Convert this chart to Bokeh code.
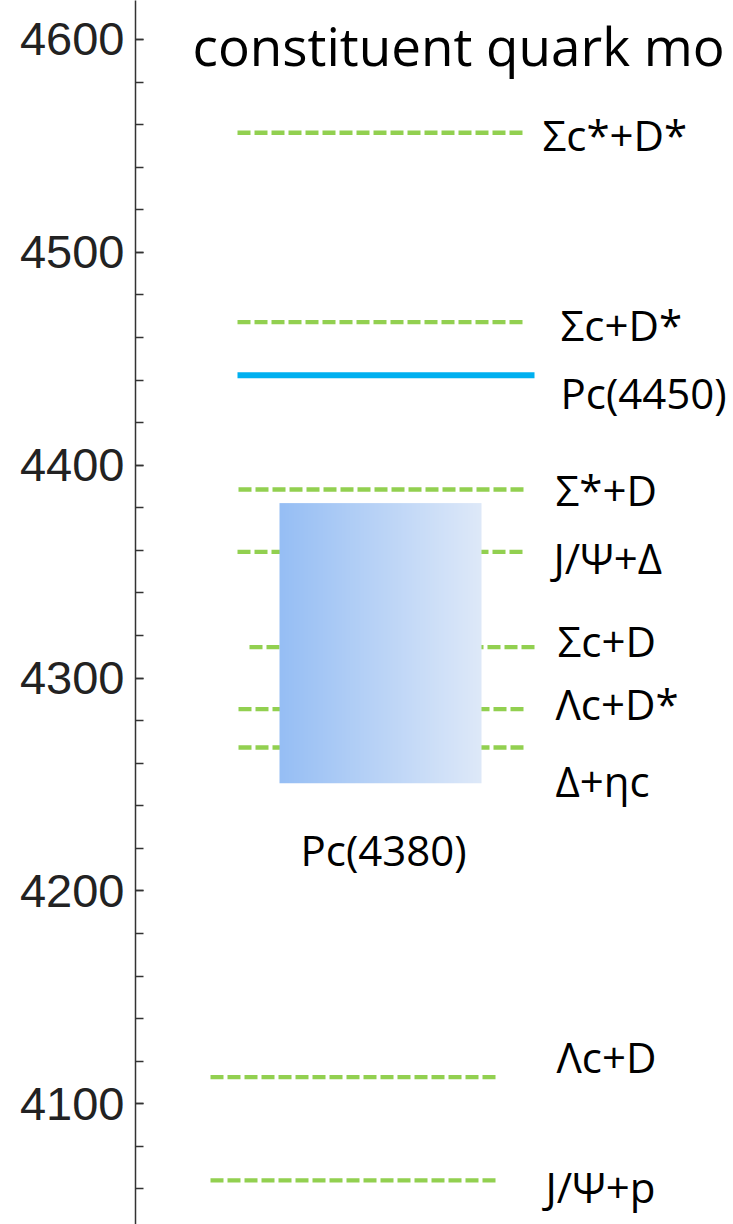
import numpy as np
from bokeh.plotting import figure
from bokeh.models import Range1d, SingleIntervalTicker, ColumnDataSource
from bokeh.core.properties import value
from bokeh.embed import file_html
from bokeh.resources import INLINE

# ---------------- data (MeV) ----------------
title_text = "constituent quark mo"
channels = ["Σc*+D*", "Σc+D*", "Σ*+D", "J/Ψ+Δ", "Σc+D", "Λc+D*", "Δ+ηc", "Λc+D", "J/Ψ+p"]
thresholds = [4556.2, 4467.2, 4388.6, 4359.3, 4314.5, 4285.4, 4267.4, 4112.5, 4064.0]
narrow_state = "Pc(4450)"
narrow_mass = 4442.3
broad_state = "Pc(4380)"
broad_low = 4250.6
broad_high = 4382.2
y_tick_interval = 100

# ---------------- layout (x: px right of the axis; y: label baselines) ----------------
TEXT_SHIFT = 7.0  # compensates the renderer's baseline offset
line_x0 = [102, 102, 103, 102, 114, 103, 103, 75, 75]
line_x1 = [388, 388, 388, 388, 400, 389, 389, 361, 361]
label_x = [407, 425, 420, 418, 422, 420, 420, 421, 410]
label_y = [4548.3, 4459.1, 4381.5, 4349.6, 4310.6, 4281.0, 4244.8, 4115.2, 4054.1]
label_y = [v + TEXT_SHIFT for v in label_y]
narrow_x0, narrow_x1 = 102, 399
narrow_label_x, narrow_label_y = 425, 4427.1 + TEXT_SHIFT
box_x0, box_x1 = 144, 346
broad_label_x, broad_label_y = 165, 4212.4 + TEXT_SHIFT
title_x, title_y = 57, 4590.1 + TEXT_SHIFT

GREEN = "#92D050"
BLUE = "#00B0F0"
FONT = "Open Sans"

p = figure(width=733, height=1224, output_backend="svg", toolbar_location=None,
           x_range=Range1d(0, 598), y_range=Range1d(4043.30, 4618.32),
           x_axis_type=None, min_border_left=135, min_border_right=0,
           min_border_top=0, min_border_bottom=0)
p.outline_line_color = None
p.grid.grid_line_color = None
p.background_fill_color = "white"
p.border_fill_color = "white"

ax = p.yaxis[0]
ax.ticker = SingleIntervalTicker(interval=y_tick_interval, num_minor_ticks=5)
ax.axis_line_color = "#333333"
ax.axis_line_width = 1.5
ax.major_tick_line_color = "#333333"
ax.minor_tick_line_color = "#333333"
ax.major_tick_line_width = 1.5
ax.minor_tick_line_width = 1.5
ax.major_tick_in = 8
ax.major_tick_out = 0
ax.minor_tick_in = 8
ax.minor_tick_out = 0
ax.major_label_standoff = 11
ax.major_label_text_font = "Liberation Sans"
ax.major_label_text_font_size = "47px"
ax.major_label_text_color = "#222222"

# threshold lines
src = ColumnDataSource(dict(x0=line_x0, x1=line_x1, y=thresholds))
p.segment(x0="x0", y0="y", x1="x1", y1="y", source=src, line_color=GREEN,
          line_width=4.3, line_dash="13 4", line_cap="butt")

# Pc(4450)
p.segment(x0=[narrow_x0], y0=[narrow_mass], x1=[narrow_x1], y1=[narrow_mass],
          line_color=BLUE, line_width=6)

# Pc(4380) box with horizontal gradient
n = 256
t = np.linspace(0, 1, n)
c0 = np.array([150, 190, 244])
c1 = np.array([222, 233, 249])
rgb = (c0[None, :] * (1 - t[:, None]) + c1[None, :] * t[:, None]).astype(np.uint8)
img = np.empty((1, n), dtype=np.uint32)
view = img.view(dtype=np.uint8).reshape((1, n, 4))
view[0, :, 0] = rgb[:, 0]
view[0, :, 1] = rgb[:, 1]
view[0, :, 2] = rgb[:, 2]
view[0, :, 3] = 255
p.image_rgba(image=[img], x=box_x0, y=broad_low, dw=box_x1 - box_x0,
             dh=broad_high - broad_low)

# labels
p.text(x=label_x, y=label_y, text=channels, text_font=value(FONT),
       text_font_size="42px", text_baseline="alphabetic", text_align="left",
       text_color="black")
p.text(x=[narrow_label_x], y=[narrow_label_y], text=[narrow_state], text_font=value(FONT),
       text_font_size="42px", text_baseline="alphabetic", text_align="left",
       text_color="black")
p.text(x=[broad_label_x], y=[broad_label_y], text=[broad_state], text_font=value(FONT),
       text_font_size="42px", text_baseline="alphabetic", text_align="left",
       text_color="black")
p.text(x=[title_x], y=[title_y], text=[title_text], text_font=value(FONT),
       text_font_size="53px", text_baseline="alphabetic", text_align="left",
       text_color="black")

open("out.html", "w").write(file_html(p, INLINE))
